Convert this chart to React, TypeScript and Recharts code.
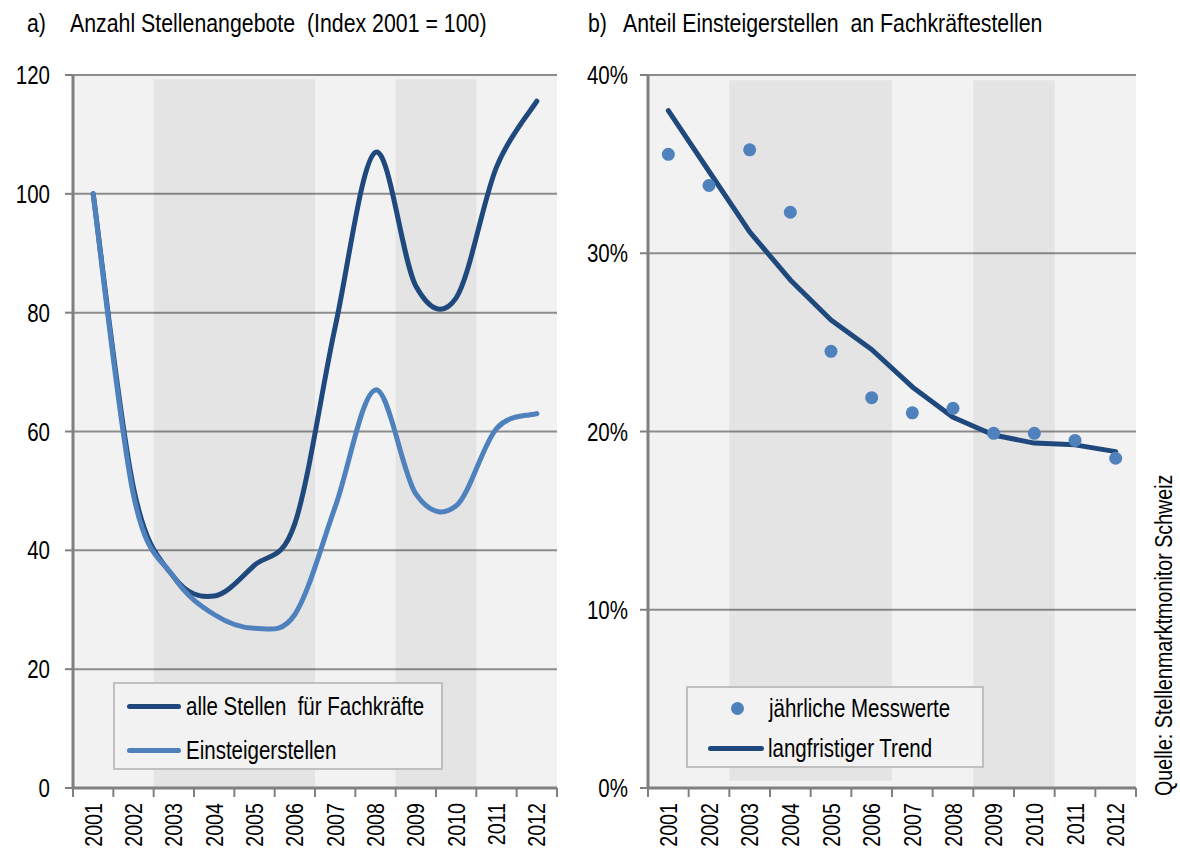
import React from 'react';
import {
  LineChart,
  Line,
  XAxis,
  YAxis,
  CartesianGrid,
  ReferenceArea,
  Legend,
} from 'recharts';

const years = ['2001', '2002', '2003', '2004', '2005', '2006', '2007', '2008', '2009', '2010', '2011', '2012'];

// a) Index 2001 = 100
const alleStellen = [100, 50.5, 35.5, 32.3, 37.5, 44.5, 77.6, 107, 84.5, 82.5, 104.5, 115.6];
const einsteiger = [100, 49.3, 35.5, 29.2, 26.9, 29.2, 47.3, 67, 49.5, 47.5, 60.5, 63];
const leftTicks = [0, 20, 40, 60, 80, 100, 120];

// b) Anteil in %
const messwerte = [35.55, 33.8, 35.8, 32.3, 24.5, 21.9, 21.05, 21.3, 19.9, 19.9, 19.5, 18.5];
const trend = [38.0, 34.6, 31.2, 28.5, 26.25, 24.6, 22.5, 20.8, 19.8, 19.35, 19.25, 18.87];
const rightTicks = [0, 10, 20, 30, 40];

// shaded periods
const bands = [
  { from: '2003', to: '2006' },
  { from: '2009', to: '2010' },
];

const leftData = years.map((y, i) => ({ year: y, alle: alleStellen[i], einsteiger: einsteiger[i] }));
const rightData = years.map((y, i) => ({ year: y, mess: messwerte[i], trend: trend[i] }));

// no narrow face installed -> squeeze Liberation Sans horizontally
const FONT = "'Liberation Sans', Arial, sans-serif";
const SQUEEZE = 0.82;
const DARK = '#1f497d';
const LIGHT = '#4f81bd';
const AXIS = '#808080';
const GRID = '#8c8c8c';
const PLOT_BG = '#f2f2f2';

// Excel-like smoothed line (Catmull-Rom through the points)
function excelCurve(context: any) {
  let pts: [number, number][] = [];
  return {
    areaStart() {},
    areaEnd() {},
    lineStart() {
      pts = [];
    },
    point(x: number, y: number) {
      pts.push([+x, +y]);
    },
    lineEnd() {
      if (!pts.length) return;
      context.moveTo(pts[0][0], pts[0][1]);
      for (let i = 0; i < pts.length - 1; i++) {
        const p0 = pts[i - 1] || pts[i];
        const p1 = pts[i];
        const p2 = pts[i + 1];
        const p3 = pts[i + 2] || p2;
        context.bezierCurveTo(
          p1[0] + (p2[0] - p0[0]) / 6,
          p1[1] + (p2[1] - p0[1]) / 6,
          p2[0] - (p3[0] - p1[0]) / 6,
          p2[1] - (p3[1] - p1[1]) / 6,
          p2[0],
          p2[1]
        );
      }
    },
  };
}

function NarrowText(props: any) {
  const { x, y, rotate = 0, anchor = 'start', size = 25, dy, children } = props;
  return (
    <text
      transform={`translate(${x} ${y}) rotate(${rotate}) scale(${SQUEEZE} 1)`}
      textAnchor={anchor}
      dy={dy}
      fontSize={size}
      fontFamily={FONT}
      fill="#000"
      style={{ whiteSpace: 'pre' }}
    >
      {children}
    </text>
  );
}

function YearTick(props: any) {
  const { x, y, payload } = props;
  const half = payload?.offset || 20;
  const last = payload?.value === years[years.length - 1];
  return (
    <g>
      <line x1={x - half} y1={y} x2={x - half} y2={y + 9} stroke={AXIS} strokeWidth={2} />
      {last && <line x1={x + half} y1={y} x2={x + half} y2={y + 9} stroke={AXIS} strokeWidth={2} />}
      <NarrowText x={x} y={y + 15} rotate={-90} anchor="end" dy="0.36em" size={24}>
        {payload.value}
      </NarrowText>
    </g>
  );
}

function ValueTick(props: any) {
  const { x, y, payload, suffix = '' } = props;
  return (
    <NarrowText x={x} y={y} anchor="end" dy="0.36em" size={25}>
      {`${payload.value}${suffix}`}
    </NarrowText>
  );
}

const legendBox: React.CSSProperties = {
  background: PLOT_BG,
  border: '2px solid #bfbfbf',
  boxSizing: 'border-box',
  fontFamily: FONT,
  fontSize: 25,
  color: '#000',
  position: 'relative',
};

const narrowSpan: React.CSSProperties = {
  display: 'inline-block',
  whiteSpace: 'pre',
  transform: `scaleX(${SQUEEZE})`,
  transformOrigin: 'left center',
};

function LeftLegend() {
  const items = [
    { label: 'alle Stellen  für Fachkräfte', color: DARK },
    { label: 'Einsteigerstellen', color: LIGHT },
  ];
  return (
    <div style={{ ...legendBox, width: 330, height: 88 }}>
      {items.map((it, i) => (
        <div key={it.label} style={{ position: 'absolute', left: 12, top: 6 + i * 44, height: 32, display: 'flex', alignItems: 'center', whiteSpace: 'nowrap' }}>
          <span style={{ display: 'inline-block', width: 54, height: 5, borderRadius: 3, background: it.color, marginRight: 5 }} />
          <span style={narrowSpan}>{it.label}</span>
        </div>
      ))}
    </div>
  );
}

function RightLegend() {
  return (
    <div style={{ ...legendBox, width: 298, height: 82 }}>
      <div style={{ position: 'absolute', left: 20, top: 4, height: 32, display: 'flex', alignItems: 'center', whiteSpace: 'nowrap' }}>
        <span style={{ display: 'inline-block', width: 13, height: 13, borderRadius: 7, background: LIGHT, marginLeft: 23, marginRight: 25 }} />
        <span style={narrowSpan}>jährliche Messwerte</span>
      </div>
      <div style={{ position: 'absolute', left: 20, top: 44, height: 32, display: 'flex', alignItems: 'center', whiteSpace: 'nowrap' }}>
        <span style={{ display: 'inline-block', width: 56, height: 5, borderRadius: 3, background: DARK, marginRight: 4 }} />
        <span style={narrowSpan}>langfristiger Trend</span>
      </div>
    </div>
  );
}

function LeftChart() {
  return (
    <LineChart width={570} height={850} data={leftData} margin={{ top: 75, right: 13, left: 0, bottom: 0 }}>
      <CartesianGrid vertical={false} fill={PLOT_BG} stroke={GRID} strokeWidth={2} yAxisId={0} />
      {bands.map((b) => (
        <ReferenceArea key={b.from} x1={b.from} x2={b.to} y1={0} y2={119.3} fill="#000" fillOpacity={0.055} stroke="none" ifOverflow="visible" />
      ))}
      <XAxis
        dataKey="year"
        scale="band"
        interval={0}
        height={62}
        tickSize={0}
        tickMargin={0}
        tickLine={false}
        axisLine={{ stroke: AXIS, strokeWidth: 3 }}
        tick={<YearTick />}
      />
      <YAxis
        domain={[0, 120]}
        ticks={leftTicks}
        width={73}
        tickSize={8}
        tickMargin={15}
        tick={<ValueTick />}
        tickLine={{ stroke: AXIS, strokeWidth: 2 }}
        axisLine={{ stroke: AXIS, strokeWidth: 3 }}
      />
      <YAxis yAxisId="r" orientation="right" domain={[0, 120]} width={0} tick={false} tickLine={false} axisLine={{ stroke: AXIS, strokeWidth: 2 }} />
      <Line dataKey="alle" type={excelCurve as any} stroke={DARK} strokeWidth={5} strokeLinecap="round" dot={false} isAnimationActive={false} />
      <Line dataKey="einsteiger" type={excelCurve as any} stroke={LIGHT} strokeWidth={5} strokeLinecap="round" dot={false} isAnimationActive={false} />
      <Legend
        layout="vertical"
        align="center"
        verticalAlign="middle"
        wrapperStyle={{ left: 113, top: 682, width: 330 }}
        content={() => <LeftLegend />}
      />
    </LineChart>
  );
}

function RightChart() {
  return (
    <LineChart width={575} height={850} data={rightData} margin={{ top: 75, right: 14, left: 0, bottom: 0 }}>
      <CartesianGrid vertical={false} fill={PLOT_BG} stroke={GRID} strokeWidth={2} yAxisId={0} />
      <ReferenceArea x1={bands[0].from} x2={bands[0].to} y1={0.4} y2={39.7} fill="#000" fillOpacity={0.055} stroke="none" ifOverflow="visible" />
      <ReferenceArea x1={bands[1].from} x2={bands[1].to} y1={0} y2={39.7} fill="#000" fillOpacity={0.055} stroke="none" ifOverflow="visible" />
      <XAxis
        dataKey="year"
        scale="band"
        interval={0}
        height={62}
        tickSize={0}
        tickMargin={0}
        tickLine={false}
        axisLine={{ stroke: AXIS, strokeWidth: 3 }}
        tick={<YearTick />}
      />
      <YAxis
        domain={[0, 40]}
        ticks={rightTicks}
        width={73}
        tickSize={8}
        tickMargin={12}
        tick={<ValueTick suffix="%" />}
        tickLine={{ stroke: AXIS, strokeWidth: 2 }}
        axisLine={{ stroke: AXIS, strokeWidth: 3 }}
      />
      <YAxis yAxisId="r" orientation="right" domain={[0, 40]} width={0} tick={false} tickLine={false} axisLine={{ stroke: AXIS, strokeWidth: 2 }} />
      <Line dataKey="trend" type="linear" stroke={DARK} strokeWidth={5} strokeLinecap="round" strokeLinejoin="round" dot={false} isAnimationActive={false} />
      <Line dataKey="mess" stroke="none" dot={{ r: 6.5, fill: LIGHT, stroke: 'none' }} isAnimationActive={false} />
      <Legend
        layout="vertical"
        align="center"
        verticalAlign="middle"
        wrapperStyle={{ left: 111, top: 686, width: 298 }}
        content={() => <RightLegend />}
      />
    </LineChart>
  );
}

export default function App() {
  return (
    <div style={{ position: 'absolute', left: 0, top: 0, width: 1180, height: 850, background: '#fff', fontFamily: FONT }}>
      <div style={{ position: 'absolute', left: 0, top: 0 }}>
        <LeftChart />
      </div>
      <div style={{ position: 'absolute', left: 575, top: 0 }}>
        <RightChart />
      </div>
      <svg width={1180} height={850} style={{ position: 'absolute', left: 0, top: 0, pointerEvents: 'none' }}>
        <NarrowText x={27} y={32} size={26}>a)</NarrowText>
        <NarrowText x={70} y={32} size={26}>Anzahl Stellenangebote  (Index 2001 = 100)</NarrowText>
        <NarrowText x={588} y={32} size={26}>b)</NarrowText>
        <NarrowText x={623} y={32} size={26}>Anteil Einsteigerstellen  an Fachkräftestellen</NarrowText>
        <NarrowText x={1172} y={796} rotate={-90} size={24}>Quelle: Stellenmarktmonitor Schweiz</NarrowText>
      </svg>
    </div>
  );
}
